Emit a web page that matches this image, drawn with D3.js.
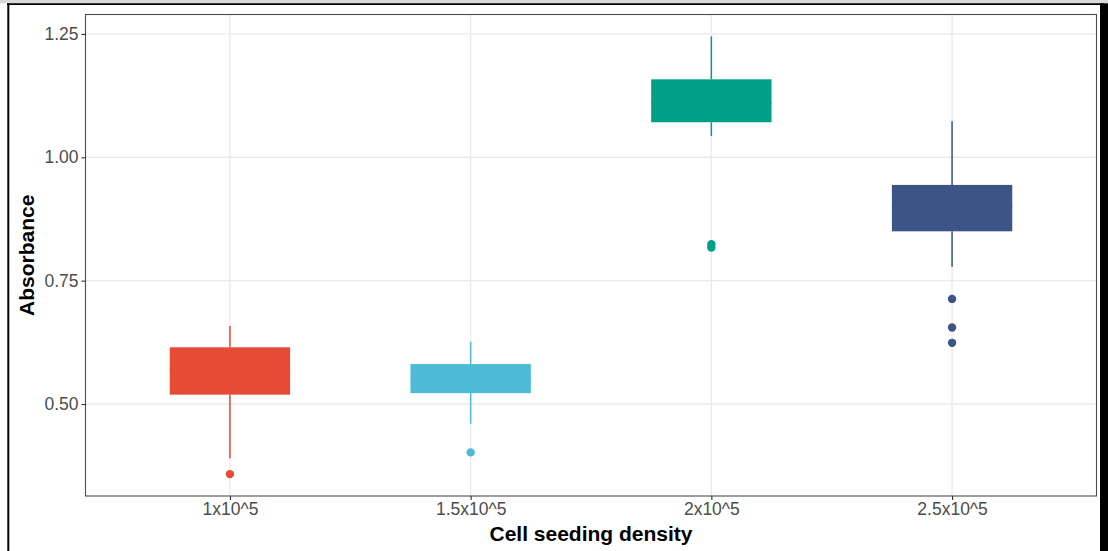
<!DOCTYPE html>
<html>
<head>
<meta charset="utf-8">
<script src="https://cdn.jsdelivr.net/npm/d3@7"></script>
<style>
  html, body { margin: 0; padding: 0; background: #ffffff; }
  svg { display: block; font-family: "Liberation Sans", Arial, sans-serif; }
</style>
</head>
<body>
<svg id="chart" width="1108" height="551"></svg>
<script>
// Absorbance by cell seeding density (box plot summary statistics)
const categories = ["1x10^5", "1.5x10^5", "2x10^5", "2.5x10^5"];
const colors     = ["#E64B35", "#4DBBD5", "#00A087", "#3C5488"];
const whiskerLow = [0.390, 0.460, 1.043, 0.778];
const q1         = [0.519, 0.522, 1.071, 0.850];
const median     = [0.570, 0.550, 1.110, 0.900];
const q3         = [0.615, 0.581, 1.158, 0.944];
const whiskerHigh= [0.658, 0.626, 1.245, 1.073];
const outliers   = [[0.358], [0.402], [0.824, 0.817], [0.713, 0.655, 0.624]];
const yTicks     = [0.50, 0.75, 1.00, 1.25];

const xTitle = "Cell seeding density";
const yTitle = "Absorbance";

const svg = d3.select("#chart");

// Outer frame
svg.append("rect").attr("x", 0).attr("y", 0).attr("width", 1108).attr("height", 3.3).attr("fill", "#d9d9d9");
svg.append("line").attr("x1", 7).attr("x2", 1104).attr("y1", 4.2).attr("y2", 4.2)
  .attr("stroke", "#000").attr("stroke-width", 1.8);
svg.append("line").attr("x1", 8.3).attr("x2", 8.3).attr("y1", 3.3).attr("y2", 551)
  .attr("stroke", "#000").attr("stroke-width", 2);
svg.append("rect").attr("x", 1100).attr("y", 3.3).attr("width", 8).attr("height", 548).attr("fill", "#000");

const panel = { left: 85.5, right: 1096.5, top: 14.5, bottom: 496 };

// Data range with 5% expansion on each side
const all = whiskerLow.concat(whiskerHigh, outliers.flat());
const lo = d3.min(all), hi = d3.max(all), pad = (hi - lo) * 0.05;
const y = d3.scaleLinear().domain([lo - pad, hi + pad]).range([panel.bottom, panel.top]);

// Discrete x: 0.6-unit expansion on both ends
const x = d3.scalePoint().domain(categories)
  .range([panel.left, panel.right]).padding(0.6);
const step = x.step();
const boxW = step * 0.5;

const g = svg.append("g");

// Grid lines
g.selectAll("line.hgrid").data(yTicks).join("line")
  .attr("x1", panel.left).attr("x2", panel.right)
  .attr("y1", d => y(d)).attr("y2", d => y(d))
  .attr("stroke", "#ebebeb").attr("stroke-width", 1.4);
g.selectAll("line.vgrid").data(categories).join("line")
  .attr("x1", d => x(d)).attr("x2", d => x(d))
  .attr("y1", panel.top).attr("y2", panel.bottom)
  .attr("stroke", "#ebebeb").attr("stroke-width", 1.4);

// Boxes
const idx = d3.range(categories.length);
const boxes = g.selectAll("g.box").data(idx).join("g");
boxes.append("line")
  .attr("x1", i => x(categories[i])).attr("x2", i => x(categories[i]))
  .attr("y1", i => y(whiskerHigh[i])).attr("y2", i => y(q3[i]))
  .attr("stroke", i => colors[i]).attr("stroke-width", 1.5);
boxes.append("line")
  .attr("x1", i => x(categories[i])).attr("x2", i => x(categories[i]))
  .attr("y1", i => y(q1[i])).attr("y2", i => y(whiskerLow[i]))
  .attr("stroke", i => colors[i]).attr("stroke-width", 1.5);
boxes.append("rect")
  .attr("x", i => x(categories[i]) - boxW / 2)
  .attr("y", i => y(q3[i]))
  .attr("width", boxW)
  .attr("height", i => y(q1[i]) - y(q3[i]))
  .attr("fill", i => colors[i]);
boxes.append("line")
  .attr("x1", i => x(categories[i]) - boxW / 2).attr("x2", i => x(categories[i]) + boxW / 2)
  .attr("y1", i => y(median[i])).attr("y2", i => y(median[i]))
  .attr("stroke", i => colors[i]).attr("stroke-width", 1.5);
boxes.each(function(i) {
  d3.select(this).selectAll("circle").data(outliers[i]).join("circle")
    .attr("cx", x(categories[i])).attr("cy", d => y(d))
    .attr("r", 4.2).attr("fill", colors[i]);
});

// Panel border
svg.append("rect")
  .attr("x", panel.left).attr("y", panel.top)
  .attr("width", panel.right - panel.left).attr("height", panel.bottom - panel.top)
  .attr("fill", "none").attr("stroke", "#4d4d4d").attr("stroke-width", 1.1);

// Axes
const yAxis = d3.axisLeft(y).tickValues(yTicks).tickFormat(d3.format(".2f"))
  .tickSize(4).tickPadding(3);
const yG = svg.append("g").attr("transform", `translate(${panel.left},0)`).call(yAxis);
const xAxis = d3.axisBottom(x).tickSize(4).tickPadding(3);
const xG = svg.append("g").attr("transform", `translate(0,${panel.bottom})`).call(xAxis);
[yG, xG].forEach(a => {
  a.select(".domain").remove();
  a.selectAll(".tick line").attr("stroke", "#333333").attr("stroke-width", 1.1);
  a.selectAll(".tick text").attr("fill", "#4d4d4d")
    .style("font-size", "17.5px").style("font-family", "'Liberation Sans', Arial, sans-serif");
});

// Axis titles
svg.append("text")
  .attr("x", (panel.left + panel.right) / 2).attr("y", 541)
  .attr("text-anchor", "middle")
  .style("font-size", "21px").style("font-weight", "bold").attr("fill", "#000")
  .text(xTitle);
svg.append("text")
  .attr("transform", `translate(34,${(panel.top + panel.bottom) / 2}) rotate(-90)`)
  .attr("text-anchor", "middle")
  .style("font-size", "21px").style("font-weight", "bold").attr("fill", "#000")
  .text(yTitle);
</script>
</body>
</html>
